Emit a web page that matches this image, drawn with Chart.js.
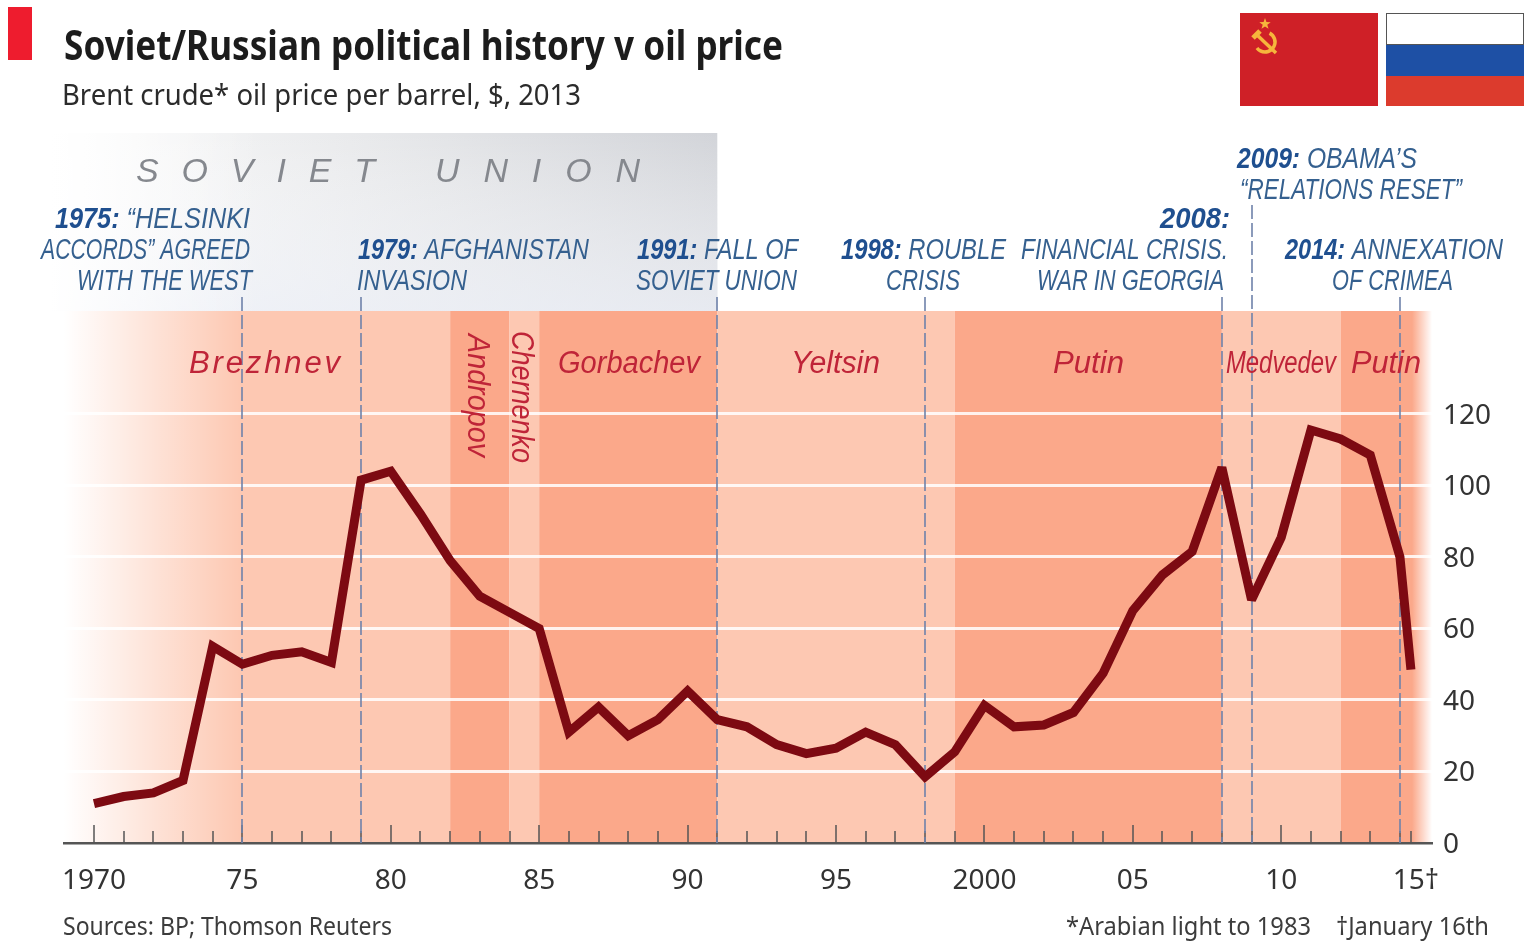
<!DOCTYPE html>
<html>
<head>
<meta charset="utf-8">
<title>Soviet/Russian political history v oil price</title>
<script src="https://cdn.jsdelivr.net/npm/chart.js@4"></script>
<style>
  html, body { margin: 0; padding: 0; background: #fff; }
  canvas { display: block; }
</style>
</head>
<body>
<canvas id="oilChart" width="1524" height="942"></canvas>
<script>
// oil price. last point is January 16th 2015
const years = [1970, 1971, 1972, 1973, 1974, 1975, 1976, 1977, 1978, 1979,
    1980, 1981, 1982, 1983, 1984, 1985, 1986, 1987, 1988, 1989,
    1990, 1991, 1992, 1993, 1994, 1995, 1996, 1997, 1998, 1999,
    2000, 2001, 2002, 2003, 2004, 2005, 2006, 2007, 2008, 2009,
    2010, 2011, 2012, 2013, 2014, 2014.37];
const prices = [11, 13, 14, 17.5, 55, 50, 52.5, 53.5, 50.5, 101.5,
    104, 92, 79, 69, 64.5, 60, 31, 38, 30, 34.5,
    42.5, 34.5, 32.5, 27.5, 25, 26.5, 31, 27.5, 18.5, 25.5,
    38.5, 32.5, 33, 36.5, 47.5, 65, 75, 81.5, 105, 68,
    85.5, 115.5, 113, 108.5, 80, 48.5];

const xTickValues = [1970, 1975, 1980, 1985, 1990, 1995, 2000, 2005, 2010, 2014.54];
const xTickLabels = ['1970', '75', '80', '85', '90', '95', '2000', '05', '10', '15†'];
const yTickValues = [0, 20, 40, 60, 80, 100, 120];

const rulers = ['Brezhnev', 'Andropov', 'Chernenko', 'Gorbachev', 'Yeltsin', 'Putin', 'Medvedev', 'Putin'];
const rulerStarts = [1970, 1982, 1984, 1985, 1991, 1999, 2008, 2012];
const eventYears = [1975, 1979, 1991, 1998, 2008, 2009, 2014];

const NARROW = '"Liberation Sans Narrow", "Liberation Sans", sans-serif';
const SANS = '"Noto Sans", sans-serif';

function fitText(ctx, text, left, right, baseline, font, color) {
    // draw text squeezed to span left..right, the original face is a condensed one
    ctx.save();
    ctx.font = font;
    ctx.fillStyle = color;
    ctx.textAlign = 'left';
    ctx.textBaseline = 'alphabetic';
    const w = ctx.measureText(text).width;
    ctx.translate(left, baseline);
    ctx.scale((right - left) / w, 1);
    ctx.fillText(text, 0, 0);
    ctx.restore();
}

function fitRuns(ctx, bold, plain, left, right, baseline) {
    // bold year + normal words on the same line
    const bFont = 'italic bold 30px ' + NARROW;
    const pFont = 'italic 30px ' + NARROW;
    ctx.save();
    ctx.font = bFont;
    const bw = ctx.measureText(bold).width;
    ctx.font = pFont;
    const pw = ctx.measureText(plain).width;
    const k = (right - left) / (bw + pw);
    ctx.restore();
    if (bold) fitText(ctx, bold, left, left + bw * k, baseline, bFont, '#1f4f8f');
    if (plain) fitText(ctx, plain, left + bw * k, right, baseline, pFont, '#35608f');
}

function spaced(ctx, text, left, right, baseline, font, color) {
    ctx.save();
    ctx.font = font;
    ctx.fillStyle = color;
    ctx.textAlign = 'left';
    const total = ctx.measureText(text).width;
    const gap = (right - left - total) / (text.length - 1);
    ctx.letterSpacing = gap + 'px';
    ctx.fillText(text, left, baseline);
    ctx.restore();
}

function rotatedLabel(ctx, text, x, top, bottom, font, color) {
    ctx.save();
    ctx.translate(x, top);
    ctx.rotate(Math.PI / 2);
    fitText(ctx, text, 0, bottom - top, 0, font, color);
    ctx.restore();
}

const backdrop = {
    id: 'backdrop',
    beforeDraw(chart) {
        const {ctx, chartArea: a, scales: {x}} = chart;
        ctx.save();

        // soviet union panel
        const end = x.getPixelForValue(1991);
        let g = ctx.createLinearGradient(50, 0, end, 0);
        g.addColorStop(0, '#fbfbfb');
        g.addColorStop(0.45, '#e9eaec');
        g.addColorStop(1, '#d2d4d9');
        ctx.fillStyle = g;
        ctx.fillRect(50, 133, end - 50, a.top - 133);
        g = ctx.createLinearGradient(0, 133, 0, a.top);
        g.addColorStop(0, 'rgba(255,255,255,0)');
        g.addColorStop(1, 'rgba(238,241,248,0.75)');
        ctx.fillStyle = g;
        ctx.fillRect(50, 133, end - 50, a.top - 133);
        g = ctx.createLinearGradient(50, 0, 260, 0);
        g.addColorStop(0, 'rgba(255,255,255,1)');
        g.addColorStop(0.35, 'rgba(255,255,255,0.6)');
        g.addColorStop(1, 'rgba(255,255,255,0)');
        ctx.fillStyle = g;
        ctx.fillRect(50, 133, 210, a.top - 133);

        // who was in power
        rulerStarts.forEach((start, i) => {
            const l = i === 0 ? a.left : x.getPixelForValue(start);
            const r = i === rulerStarts.length - 1 ? a.right : x.getPixelForValue(rulerStarts[i + 1]);
            ctx.fillStyle = i % 2 ? '#fba88a' : '#fdc8b2';
            ctx.fillRect(l, a.top, r - l, a.bottom - a.top);
        });

        // fade out on both sides
        g = ctx.createLinearGradient(a.left, 0, 240, 0);
        g.addColorStop(0, 'rgba(255,255,255,1)');
        g.addColorStop(0.25, 'rgba(255,255,255,0.75)');
        g.addColorStop(1, 'rgba(255,255,255,0)');
        ctx.fillStyle = g;
        ctx.fillRect(a.left, a.top, 240 - a.left, a.bottom - a.top);
        g = ctx.createLinearGradient(1412, 0, a.right, 0);
        g.addColorStop(0, 'rgba(255,255,255,0)');
        g.addColorStop(1, 'rgba(255,255,255,1)');
        ctx.fillStyle = g;
        ctx.fillRect(1412, a.top, a.right - 1412, a.bottom - a.top);

        // red tab
        ctx.fillStyle = '#ee1c2e';
        ctx.fillRect(8, 7, 24, 53);

        // flags
        ctx.fillStyle = '#cf2027';
        ctx.fillRect(1240, 13, 138, 93);
        ctx.fillStyle = '#ffffff';
        ctx.fillRect(1386, 13, 138, 31);
        ctx.fillStyle = '#1e50a5';
        ctx.fillRect(1386, 44, 138, 32);
        ctx.fillStyle = '#dc3b2d';
        ctx.fillRect(1386, 76, 138, 30);
        ctx.strokeStyle = '#555';
        ctx.lineWidth = 1;
        ctx.strokeRect(1386.5, 13.5, 137, 31);

        // hammer and sickle
        ctx.fillStyle = '#f6b63c';
        ctx.strokeStyle = '#f6b63c';
        ctx.beginPath();
        for (let i = 0; i < 10; i++) {
            const rad = i % 2 ? 2.4 : 6;
            const ang = -Math.PI / 2 + i * Math.PI / 5;
            ctx.lineTo(1265 + rad * Math.cos(ang), 24 + rad * Math.sin(ang));
        }
        ctx.closePath();
        ctx.fill();
        ctx.lineWidth = 3.5;
        ctx.beginPath();
        ctx.arc(1265, 42, 10, -1.1, 2.5);
        ctx.stroke();
        ctx.beginPath();
        ctx.moveTo(1256, 34);
        ctx.lineTo(1276, 53);
        ctx.stroke();
        ctx.lineWidth = 5;
        ctx.beginPath();
        ctx.moveTo(1253, 38);
        ctx.lineTo(1260, 31);
        ctx.stroke();
        ctx.restore();
    },
    beforeDatasetsDraw(chart) {
        const {ctx, chartArea: a, scales: {x}} = chart;
        ctx.save();

        // ticks go upwards from the axis
        ctx.strokeStyle = '#555';
        ctx.lineWidth = 1.5;
        years.forEach(v => {
            const major = v % 5 === 0;
            const px = Math.round(x.getPixelForValue(v));
            ctx.beginPath();
            ctx.moveTo(px, a.bottom);
            ctx.lineTo(px, a.bottom - (major ? 18 : 12));
            ctx.stroke();
        });

        // event lines
        ctx.strokeStyle = '#6f82aa';
        ctx.lineWidth = 1.6;
        ctx.setLineDash([14, 4]);
        eventYears.forEach(v => {
            const px = Math.round(x.getPixelForValue(v));
            ctx.beginPath();
            ctx.moveTo(px, v === 2009 ? 205 : 297);
            ctx.lineTo(px, a.bottom);
            ctx.stroke();
        });
        ctx.restore();

        // sharp peaks get cut flat, no long spikes
        ctx.miterLimit = 2;
    },
    afterDraw(chart) {
        const {ctx} = chart;

        // headings
        fitText(ctx, 'Soviet/Russian political history v oil price', 64, 783, 60, 'bold 41px ' + SANS, '#1c1c1c');
        fitText(ctx, 'Brent crude* oil price per barrel, $, 2013', 62, 581, 105, '29px ' + SANS, '#2b2b2b');
        fitText(ctx, 'Sources: BP; Thomson Reuters', 63, 392, 935, '26px ' + SANS, '#3c3c3c');
        fitText(ctx, '*Arabian light to 1983', 1066, 1311, 935, '26px ' + SANS, '#3c3c3c');
        fitText(ctx, '†January 16th', 1336, 1489, 935, '26px ' + SANS, '#3c3c3c');

        spaced(ctx, 'SOVIET', 136, 375, 182, 'italic 34px ' + NARROW, '#85888e');
        spaced(ctx, 'UNION', 435, 640, 182, 'italic 34px ' + NARROW, '#85888e');

        // event notes
        fitRuns(ctx, '1975: ', '“HELSINKI', 55, 250, 228);
        fitRuns(ctx, '', 'ACCORDS” AGREED', 41, 250, 259);
        fitRuns(ctx, '', 'WITH THE WEST', 77, 252, 290);
        fitRuns(ctx, '1979: ', 'AFGHANISTAN', 358, 589, 259);
        fitRuns(ctx, '', 'INVASION', 357, 467, 290);
        fitRuns(ctx, '1991: ', 'FALL OF', 637, 798, 259);
        fitRuns(ctx, '', 'SOVIET UNION', 636, 797, 290);
        fitRuns(ctx, '1998: ', 'ROUBLE', 841, 1006, 259);
        fitRuns(ctx, '', 'CRISIS', 886, 960, 290);
        fitRuns(ctx, '2008:', '', 1160, 1230, 228);
        fitRuns(ctx, '', 'FINANCIAL CRISIS.', 1021, 1228, 259);
        fitRuns(ctx, '', 'WAR IN GEORGIA', 1037, 1224, 290);
        fitRuns(ctx, '2009: ', 'OBAMA’S', 1237, 1417, 168);
        fitRuns(ctx, '', '“RELATIONS RESET”', 1240, 1462, 199);
        fitRuns(ctx, '2014: ', 'ANNEXATION', 1285, 1503, 259);
        fitRuns(ctx, '', 'OF CRIMEA', 1332, 1453, 290);

        // who was in power
        const red = '#bf2438';
        const nameFont = 'italic 31px ' + NARROW;
        spaced(ctx, rulers[0], 189, 340, 373, nameFont, red);
        rotatedLabel(ctx, rulers[1], 468, 334, 457, nameFont, red);
        rotatedLabel(ctx, rulers[2], 512, 331, 463, nameFont, red);
        fitText(ctx, rulers[3], 558, 700, 373, nameFont, red);
        fitText(ctx, rulers[4], 791, 880, 373, nameFont, red);
        fitText(ctx, rulers[5], 1053, 1124, 373, nameFont, red);
        fitText(ctx, rulers[6], 1226, 1336, 373, nameFont, red);
        fitText(ctx, rulers[7], 1351, 1421, 373, nameFont, red);
    }
};

new Chart(document.getElementById('oilChart'), {
    type: 'line',
    data: {
        datasets: [{
            label: 'Brent crude',
            data: years.map((y, i) => ({x: y, y: prices[i]})),
            borderColor: '#7d0a12',
            borderWidth: 9,
            borderJoinStyle: 'miter',
            borderCapStyle: 'butt',
            pointRadius: 0,
            tension: 0,
            clip: false
        }]
    },
    options: {
        responsive: false,
        animation: false,
        devicePixelRatio: 1,
        layout: {padding: {left: 64, top: 311, right: 0, bottom: 0}},
        plugins: {legend: {display: false}, tooltip: {enabled: false}},
        scales: {
            x: {
                type: 'linear',
                min: 1968.99,
                max: 2015.08,
                afterFit: s => { s.height = 99; },
                afterBuildTicks: s => { s.ticks = xTickValues.map(v => ({value: v})); },
                grid: {display: false},
                border: {display: true, color: '#555', width: 2.5},
                ticks: {
                    autoSkip: false,
                    maxRotation: 0,
                    padding: 13,
                    color: '#333',
                    font: {family: 'Noto Sans', size: 28},
                    callback: v => xTickLabels[xTickValues.indexOf(v)]
                }
            },
            y: {
                position: 'right',
                min: 0,
                max: 148.8,
                afterFit: s => { s.width = 92; },
                afterBuildTicks: s => { s.ticks = yTickValues.map(v => ({value: v})); },
                grid: {
                    color: c => c.tick.value === 0 ? 'rgba(0,0,0,0)' : 'rgba(255,255,255,0.85)',
                    lineWidth: 3,
                    drawTicks: false
                },
                border: {display: false},
                ticks: {
                    padding: 11,
                    labelOffset: 2,
                    color: '#333',
                    font: {family: 'Noto Sans', size: 28}
                }
            }
        }
    },
    plugins: [backdrop]
});
</script>
</body>
</html>
